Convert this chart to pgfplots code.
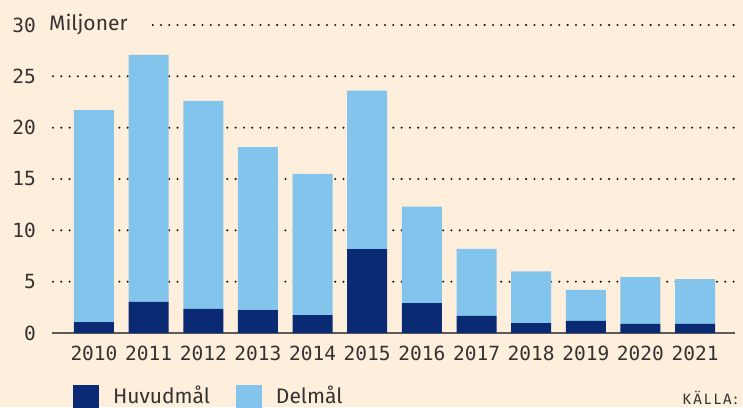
\documentclass[border=0pt]{standalone}
\usepackage{fontspec}
\setmainfont{Fira Sans}
\newfontfamily\monofont{DejaVu Sans Mono}
\newfontfamily\spacedfont[LetterSpace=14]{Fira Sans}
\usepackage{pgfplots}
\pgfplotsset{compat=1.18}
\definecolor{bgc}{HTML}{FEEEDC}
\definecolor{darkbar}{HTML}{0B2A74}
\definecolor{lightbar}{HTML}{82C4EC}
\definecolor{txt}{HTML}{333333}
\begin{document}
\begin{tikzpicture}
\fill[bgc] (0,0) rectangle (743pt,407pt);
\begin{axis}[
  at={(53pt,74pt)}, anchor=south west,
  scale only axis, width=682pt, height=308pt,
  xmin=-0.75, xmax=11.73, ymin=0, ymax=30,
  enlargelimits=false,
  clip mode=individual,
  ybar stacked, bar width=40pt,
  xtick={0,...,11},
  xticklabels={2010,2011,2012,2013,2014,2015,2016,2017,2018,2019,2020,2021},
  ytick={0,5,...,30},
  axis lines*=left,
  y axis line style={draw=none},
  x axis line style={draw=txt!80, line width=1.1pt, -},
  major tick length=0pt,
  tick style={draw=none},
  ymajorgrids,
  major grid style={draw=black!90, line width=2.3pt, line cap=round, dash pattern=on 0pt off 8.3pt},
  /pgf/number format/assume math mode=true,
  tick label style={font=\monofont\fontsize{19.5}{20}\selectfont, text=txt, inner sep=0pt},
  yticklabel style={anchor=east, xshift=-17pt},
  xticklabel style={anchor=north, yshift=-13pt},
  legend columns=-1,
  legend image code/.code={\fill[#1] (0pt,-12pt) rectangle (26pt,11pt);},
  legend style={at={(0,0)}, anchor=north west, xshift=20pt, yshift=-51.5pt,
    draw=none, fill=none, inner sep=0pt, outer sep=0pt,
    font=\fontsize{21}{22}\selectfont, text=txt,
    nodes={inner xsep=14pt, inner ysep=0pt},
    /tikz/every even column/.append style={column sep=12pt}},
]
\addplot[fill=darkbar, draw=none] coordinates {
(0,1.07) (1,3.02) (2,2.34) (3,2.24) (4,1.75) (5,8.18) (6,2.92) (7,1.66) (8,0.97) (9,1.17) (10,0.88) (11,0.88)};
\addlegendentry{Huvudmål}
\addplot[fill=lightbar, draw=none] coordinates {
(0,20.63) (1,24.08) (2,20.26) (3,15.86) (4,13.75) (5,15.42) (6,9.38) (7,6.54) (8,5.03) (9,3.02) (10,4.57) (11,4.37)};
\addlegendentry{Delmål}
\node[anchor=west, fill=bgc, inner xsep=4pt, inner ysep=2pt, text width=99pt, align=left,
  font=\fontsize{21}{22}\selectfont, text=txt, xshift=-8pt] at (rel axis cs:0,1) {Miljoner};
\end{axis}
\node[anchor=base east, font=\spacedfont\fontsize{15}{16}\selectfont, text=txt] at (741pt,2.5pt) {KÄLLA:};
\pgfresetboundingbox
\path[use as bounding box] (0,0) rectangle (743pt,407pt);
\end{tikzpicture}
\end{document}
